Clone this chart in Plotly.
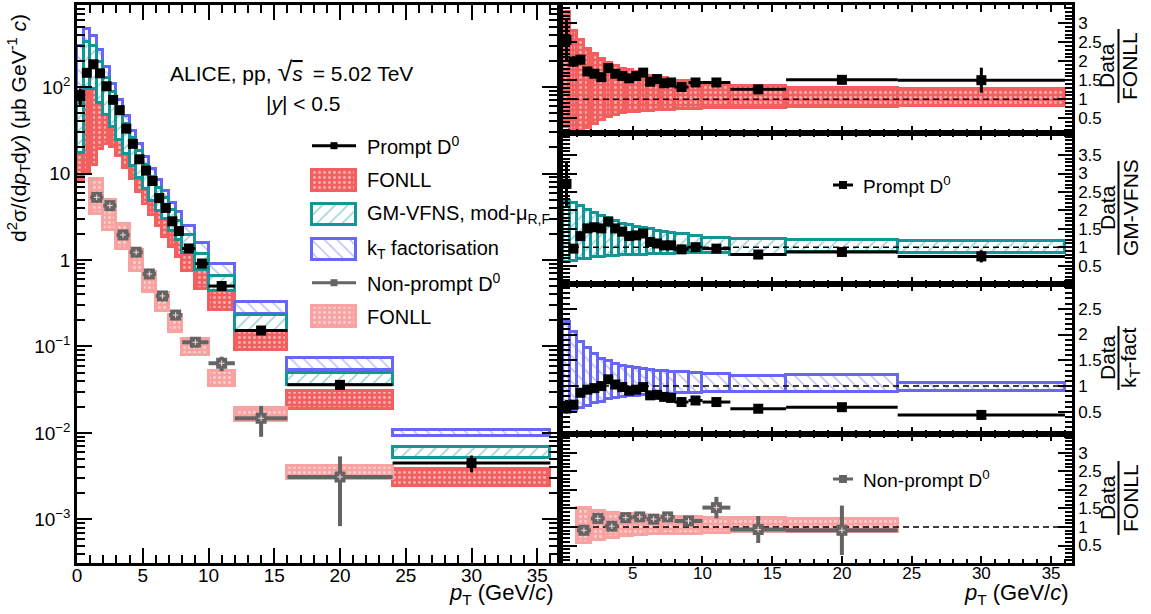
import plotly.graph_objects as go

# ---------------- data ----------------
pt_lo = [0, 0.5, 1, 1.5, 2, 2.5, 3, 3.5, 4, 4.5, 5, 5.5, 6, 6.5, 7, 7.5, 8, 9, 10, 12, 16, 24]
pt_hi = [0.5, 1, 1.5, 2, 2.5, 3, 3.5, 4, 4.5, 5, 5.5, 6, 6.5, 7, 7.5, 8, 9, 10, 12, 16, 24, 36]
prompt_xsec = [79, 146, 183, 144, 102, 71, 54, 33, 22, 14.6, 10.8, 8.2, 5.2, 4.0, 2.8, 2.16,
               1.36, 0.91, 0.50, 0.153, 0.036, 0.0045]
prompt_rel_err = [0.22, 0.07, 0.06, 0.05, 0.04, 0.04, 0.04, 0.04, 0.04, 0.04, 0.04, 0.04, 0.04,
                  0.04, 0.04, 0.04, 0.04, 0.04, 0.04, 0.06, 0.08, 0.22]

# Data / FONLL and FONLL band relative to its central value
fonll_ratio = [2.56, 1.99, 2.04, 1.73, 1.67, 1.58, 1.82, 1.67, 1.61, 1.55, 1.61, 1.70, 1.46, 1.53,
               1.42, 1.44, 1.32, 1.44, 1.44, 1.26, 1.51, 1.50]
fonll_hi = [3.29, 2.80, 2.56, 2.33, 2.18, 2.05, 1.94, 1.87, 1.80, 1.76, 1.71, 1.67, 1.62, 1.59,
            1.55, 1.51, 1.47, 1.43, 1.38, 1.35, 1.29, 1.28]
fonll_lo = [0.27, 0.14, 0.14, 0.23, 0.36, 0.45, 0.54, 0.58, 0.63, 0.65, 0.67, 0.69, 0.70, 0.71,
            0.71, 0.72, 0.73, 0.74, 0.76, 0.76, 0.80, 0.82]

# Data / GM-VFNS and band
gm_ratio = [2.72, 0.96, 1.30, 1.51, 1.54, 1.51, 1.69, 1.51, 1.42, 1.30, 1.32, 1.37, 1.14, 1.10,
            1.05, 1.05, 0.94, 1.00, 0.96, 0.80, 0.87, 0.75]
gm_hi = [2.25, 2.19, 2.12, 2.02, 1.93, 1.84, 1.78, 1.71, 1.64, 1.60, 1.55, 1.51, 1.48, 1.44,
         1.42, 1.39, 1.35, 1.30, 1.26, 1.21, 1.20, 1.16]
gm_lo = [0.60, 0.63, 0.67, 0.69, 0.72, 0.74, 0.76, 0.77, 0.78, 0.79, 0.80, 0.80, 0.81, 0.81,
         0.82, 0.82, 0.83, 0.84, 0.85, 0.78, 0.87, 0.85]

# Data / kT-factorisation and band
kt_ratio = [0.60, 0.64, 0.87, 0.93, 0.96, 1.00, 1.13, 1.03, 0.98, 0.91, 0.93, 0.98, 0.82, 0.83,
            0.79, 0.77, 0.69, 0.72, 0.69, 0.56, 0.59, 0.44]
kt_hi = [2.24, 2.04, 1.86, 1.73, 1.62, 1.53, 1.49, 1.43, 1.39, 1.37, 1.35, 1.33, 1.31, 1.30,
         1.29, 1.28, 1.27, 1.25, 1.24, 1.19, 1.22, 1.05]
kt_lo = [0.47, 0.51, 0.58, 0.62, 0.67, 0.70, 0.74, 0.77, 0.79, 0.80, 0.81, 0.82, 0.83, 0.84,
         0.84, 0.85, 0.86, 0.87, 0.89, 0.88, 0.88, 0.91]

# Non-prompt D0
np_lo = [1, 2, 3, 4, 5, 6, 7, 8, 10, 12, 16]
np_hi = [2, 3, 4, 5, 6, 7, 8, 10, 12, 16, 24]
np_xsec = [5.3, 4.25, 1.95, 1.23, 0.69, 0.384, 0.231, 0.112, 0.064, 0.0148, 0.0031]
np_rel_err = [0.08, 0.08, 0.08, 0.08, 0.08, 0.08, 0.09, 0.10, 0.19, 0.39, 0.73]
np_ratio = [0.91, 1.23, 1.02, 1.25, 1.27, 1.21, 1.27, 1.16, 1.52, 0.93, 0.91]
np_fonll_hi = [1.50, 1.42, 1.37, 1.34, 1.32, 1.30, 1.28, 1.27, 1.25, 1.23, 1.22]
np_fonll_lo = [0.58, 0.65, 0.70, 0.75, 0.78, 0.80, 0.81, 0.82, 0.84, 0.86, 0.86]

log_tick_vals = [1e-3, 1e-2, 1e-1, 1, 10, 100]
log_tick_text = ["10<sup>\u22123</sup>", "10<sup>\u22122</sup>", "10<sup>\u22121</sup>", "1", "10", "10<sup>2</sup>"]
x_tick_vals_left = [0, 5, 10, 15, 20, 25, 30, 35]
x_tick_vals_right = [5, 10, 15, 20, 25, 30, 35]

# ---------------- styling ----------------
FONT = "Liberation Sans, Arial, Helvetica, sans-serif"
RED = "#f35f5f"
PALE = "#f8a2a2"
TEAL = "#129696"
BLUE = "#6767f7"
GRAY = "#646464"
UNITY = 1.0
XMAX = 36.5

W, H = 1151, 614
ML, MR, MT, MB = 77, 79, 5, 51
PW, PH = W - ML - MR, H - MT - MB


def px_x(px):
    return (px - ML) / PW


def px_y(py):
    return (H - MB - py) / PH


def centers(lo, hi):
    return [(a + b) / 2 for a, b in zip(lo, hi)], [b - a for a, b in zip(lo, hi)]


xc, xw = centers(pt_lo, pt_hi)
xhalf = [w / 2 for w in xw]
nxc, nxw = centers(np_lo, np_hi)
nxhalf = [w / 2 for w in nxw]

PAT_FONLL = dict(shape=".", fgcolor="white", bgcolor=RED, size=5, solidity=0.28)
PAT_PALE = dict(shape=".", fgcolor="white", bgcolor=PALE, size=5, solidity=0.28)
PAT_GM = dict(shape="/", fgcolor=TEAL, bgcolor="white", size=9, solidity=0.15)
PAT_KT = dict(shape="\\", fgcolor=BLUE, bgcolor="white", size=9, solidity=0.15)

fig = go.Figure()


def add_band(x, w, base, height, fill, line, pattern, xa, ya, lw=3):
    fig.add_trace(go.Bar(x=x, y=height, base=base, width=w, xaxis=xa, yaxis=ya,
                         marker=dict(color=fill, line=dict(color=line, width=lw), pattern=pattern),
                         opacity=1, showlegend=False, hoverinfo="skip"))


def add_points(x, y, ex, ey, color, xa, ya, size=10, symbol="square", thick=3, cross=False):
    fig.add_trace(go.Scatter(x=x, y=y, mode="markers", xaxis=xa, yaxis=ya,
                             marker=dict(color=color, size=size, symbol=symbol),
                             error_x=dict(type="data", array=ex, thickness=thick, width=0, color=color),
                             error_y=dict(type="data", array=ey, thickness=thick, width=0, color=color),
                             showlegend=False, hoverinfo="skip"))
    if cross:
        fig.add_trace(go.Scatter(x=x, y=y, mode="markers", xaxis=xa, yaxis=ya,
                                 marker=dict(symbol="cross-thin", size=4, line=dict(color="#ffd6d6", width=1)),
                                 showlegend=False, hoverinfo="skip"))


def model_box(ratio, lo, hi):
    central = [d / r for d, r in zip(prompt_xsec, ratio)]
    base = [c * l for c, l in zip(central, lo)]
    height = [c * (h - l) for c, l, h in zip(central, lo, hi)]
    return base, height


# ---------- left panel ----------
b, h = model_box(fonll_ratio, fonll_lo, fonll_hi)
add_band(xc, xw, b, h, RED, RED, PAT_FONLL, "x", "y")
b, h = model_box(kt_ratio, kt_lo, kt_hi)
add_band(xc, xw, b, h, "white", BLUE, PAT_KT, "x", "y")
b, h = model_box(gm_ratio, gm_lo, gm_hi)
add_band(xc, xw, b, h, "white", TEAL, PAT_GM, "x", "y")

np_central = [d / r for d, r in zip(np_xsec, np_ratio)]
add_band(nxc, nxw, [c * l for c, l in zip(np_central, np_fonll_lo)],
         [c * (hh - l) for c, l, hh in zip(np_central, np_fonll_lo, np_fonll_hi)],
         PALE, PALE, PAT_PALE, "x", "y")

add_points(nxc, np_xsec, nxhalf, [d * e for d, e in zip(np_xsec, np_rel_err)], GRAY, "x", "y",
           size=11, thick=4, cross=True)
add_points(xc, prompt_xsec, xhalf, [d * e for d, e in zip(prompt_xsec, prompt_rel_err)], "black", "x", "y")

# ---------- ratio panels ----------
panels = [
    ("x2", "y2", fonll_ratio, fonll_lo, fonll_hi, RED, RED, PAT_FONLL),
    ("x3", "y3", gm_ratio, gm_lo, gm_hi, "white", TEAL, PAT_GM),
    ("x4", "y4", kt_ratio, kt_lo, kt_hi, "white", BLUE, PAT_KT),
]
for xa, ya, ratio, lo, hi, fill, line, pat in panels:
    add_band(xc, xw, lo, [a - bb for a, bb in zip(hi, lo)], fill, line, pat, xa, ya)
    fig.add_trace(go.Scatter(x=[0, XMAX], y=[UNITY, UNITY], mode="lines", xaxis=xa, yaxis=ya,
                             line=dict(color="black", width=1.5, dash="6px,4px"),
                             showlegend=False, hoverinfo="skip"))
    add_points(xc, ratio, xhalf, [r * e for r, e in zip(ratio, prompt_rel_err)], "black", xa, ya)

add_band(nxc, nxw, np_fonll_lo, [a - bb for a, bb in zip(np_fonll_hi, np_fonll_lo)],
         PALE, PALE, PAT_PALE, "x5", "y5")
fig.add_trace(go.Scatter(x=[0, XMAX], y=[UNITY, UNITY], mode="lines", xaxis="x5", yaxis="y5",
                         line=dict(color="black", width=1.5, dash="6px,4px"),
                         showlegend=False, hoverinfo="skip"))
add_points(nxc, np_ratio, nxhalf, [r * e for r, e in zip(np_ratio, np_rel_err)], GRAY, "x5", "y5",
           size=11, thick=4, cross=True)

# ---------- legend drawn on an auxiliary pixel-coordinate axis ----------
leg_rows = [145.7, 180, 214.3, 249.3, 282.7, 316.7]
leg_labels = ["Prompt D<sup>0</sup>", "FONLL", "GM-VFNS, mod-\u03bc<sub>R,F</sub>",
              "k<sub>T</sub> factorisation", "Non-prompt D<sup>0</sup>", "FONLL"]
SW_X0, SW_X1, SW_H = 312, 356, 21
sw_c = (SW_X0 + SW_X1) / 2
box_styles = {1: (RED, RED, PAT_FONLL), 2: ("white", TEAL, PAT_GM), 3: ("white", BLUE, PAT_KT),
              5: (PALE, PALE, PAT_PALE)}
for i, row in enumerate(leg_rows):
    if i in box_styles:
        fill, line, pat = box_styles[i]
        add_band([sw_c], [SW_X1 - SW_X0], [row - SW_H / 2], [SW_H], fill, line, pat, "x6", "y6")
    else:
        col = "black" if i == 0 else GRAY
        fig.add_trace(go.Scatter(x=[SW_X0, SW_X1], y=[row, row], mode="lines", xaxis="x6", yaxis="y6",
                                 line=dict(color=col, width=3), showlegend=False, hoverinfo="skip"))
        fig.add_trace(go.Scatter(x=[sw_c], y=[row], mode="markers", xaxis="x6", yaxis="y6",
                                 marker=dict(color=col, size=7, symbol="square"),
                                 showlegend=False, hoverinfo="skip"))

# small legends inside ratio panels
for py, col in [(185, "black"), (479, GRAY)]:
    fig.add_trace(go.Scatter(x=[833, 853], y=[py, py], mode="lines", xaxis="x6", yaxis="y6",
                             line=dict(color=col, width=3), showlegend=False, hoverinfo="skip"))
    fig.add_trace(go.Scatter(x=[843], y=[py], mode="markers", xaxis="x6", yaxis="y6",
                             marker=dict(color=col, size=8, symbol="square"),
                             showlegend=False, hoverinfo="skip"))

BLACKFONT = lambda s: dict(size=s, family=FONT, color="black")
annotations = []
for row, lab in zip(leg_rows, leg_labels):
    annotations.append(dict(x=px_x(365), y=px_y(row), xref="paper", yref="paper", text=lab,
                            showarrow=False, xanchor="left", yanchor="middle", font=BLACKFONT(20)))
for py, lab in [(185, "Prompt D<sup>0</sup>"), (479, "Non-prompt D<sup>0</sup>")]:
    annotations.append(dict(x=px_x(861), y=px_y(py), xref="paper", yref="paper", text=lab,
                            showarrow=False, xanchor="left", yanchor="middle", font=BLACKFONT(19)))

# header text
annotations.append(dict(x=px_x(168), y=px_y(72), xref="paper", yref="paper", showarrow=False,
                        xanchor="left", yanchor="middle",
                        text="ALICE, pp, <span style='font-size:27px'>\u221a</span>"
                             "<span style='text-decoration:overline'><i>s</i></span>\u2009 = 5.02 TeV",
                        font=BLACKFONT(21)))
annotations.append(dict(x=px_x(303), y=px_y(103), xref="paper", yref="paper", showarrow=False,
                        xanchor="center", yanchor="middle",
                        text="|<i>y</i>| &lt; 0.5", font=BLACKFONT(21)))

# axis titles
annotations.append(dict(x=px_x(18), y=px_y(128), xref="paper", yref="paper", showarrow=False,
                        textangle=-90, xanchor="center", yanchor="middle",
                        text="d<sup>2</sup>\u03c3/(d<i>p</i><sub>T</sub>d<i>y</i>) (\u03bcb GeV<sup>-1</sup> <i>c</i>)",
                        font=BLACKFONT(21)))
for xr in (556, 1071):
    annotations.append(dict(x=px_x(xr), y=px_y(594), xref="paper", yref="paper", showarrow=False,
                            xanchor="right", yanchor="middle",
                            text="<i>p</i><sub>T</sub> (GeV/<i>c</i>)", font=BLACKFONT(22)))

# fraction titles of ratio panels
fracs = [(66, "FONLL", 74), (208, "GM-VFNS", 94), (358, "k<sub>T</sub>-fact", 64), (498, "FONLL", 74)]
shapes = []
for cy, den, ln in fracs:
    annotations.append(dict(x=px_x(1107), y=px_y(cy), xref="paper", yref="paper", showarrow=False,
                            xanchor="center", yanchor="middle",
                            textangle=-90, text="Data", font=BLACKFONT(21)))
    annotations.append(dict(x=px_x(1130), y=px_y(cy), xref="paper", yref="paper", showarrow=False,
                            xanchor="center", yanchor="middle",
                            textangle=-90, text=den, font=BLACKFONT(21)))
    shapes.append(dict(type="line", xref="paper", yref="paper", x0=px_x(1118.5), x1=px_x(1118.5),
                       y0=px_y(cy - ln / 2), y1=px_y(cy + ln / 2), line=dict(color="black", width=2)))

# ---------------- axes ----------------
common = dict(ticks="inside", showline=True, linecolor="black", linewidth=2.5, mirror="allticks",
              tickcolor="black", tickwidth=2, showgrid=False, zeroline=False, automargin=False)

minor_log = [m * 10 ** k for k in range(-4, 3) for m in range(2, 10)]

x_left_dom = [0, px_x(557)]
x_right_dom = [px_x(563), 1]

layout_axes = dict(
    xaxis=dict(domain=x_left_dom, range=[0, XMAX], tickvals=x_tick_vals_left, ticklen=15,
               ticklabelstandoff=-7,
               minor=dict(ticks="inside", ticklen=8, tickwidth=1.5, tickcolor="black", dtick=1, tick0=0),
               tickfont=BLACKFONT(19), anchor="y", **common),
    yaxis=dict(domain=[0, 1], type="log", range=[-3.503, 2.948], tickvals=log_tick_vals,
               ticktext=log_tick_text, ticklen=15,
               minor=dict(ticks="inside", ticklen=8, tickwidth=1.5, tickcolor="black", tickvals=minor_log),
               tickfont=BLACKFONT(19), anchor="x", **common),
)

ratio_doms = [[px_y(133), 1], [px_y(284), px_y(133)], [px_y(434), px_y(284)], [0, px_y(434)]]
ratio_ranges = [[0.11, 3.48], [0.0, 4.1], [0.07, 2.98], [0.03, 3.5]]
ratio_ticks = [[0.5, 1, 1.5, 2, 2.5, 3], [0.5, 1, 1.5, 2, 2.5, 3, 3.5],
               [0.5, 1, 1.5, 2, 2.5], [0.5, 1, 1.5, 2, 2.5, 3]]
for i in range(4):
    n = i + 2
    layout_axes[f"xaxis{n}"] = dict(domain=x_right_dom, range=[0, XMAX], tickvals=x_tick_vals_right,
                                    ticklen=7, showticklabels=(i == 3), ticklabelstandoff=-7,
                                    minor=dict(ticks="inside", ticklen=4, tickwidth=1.5, tickcolor="black",
                                               dtick=1, tick0=0),
                                    tickfont=BLACKFONT(17), anchor=f"y{n}", **common)
    layout_axes[f"yaxis{n}"] = dict(domain=ratio_doms[i], range=ratio_ranges[i], tickvals=ratio_ticks[i],
                                    ticklen=14, side="right",
                                    minor=dict(ticks="inside", ticklen=7, tickwidth=1.5, tickcolor="black",
                                               dtick=0.1, tick0=0),
                                    tickfont=BLACKFONT(17), anchor=f"x{n}", **common)

layout_axes["xaxis6"] = dict(domain=[0, 1], range=[ML, W - MR], visible=False, fixedrange=True, anchor="y6")
layout_axes["yaxis6"] = dict(domain=[0, 1], range=[H - MB, MT], visible=False, fixedrange=True, anchor="x6")

fig.update_layout(
    width=W, height=H, margin=dict(l=ML, r=MR, t=MT, b=MB),
    paper_bgcolor="white", plot_bgcolor="rgba(0,0,0,0)", barmode="overlay", bargap=0,
    font=dict(family=FONT, color="black"), showlegend=False,
    annotations=annotations, shapes=shapes, **layout_axes,
)

fig.write_html("out.html", config={"displayModeBar": False},
               post_script="document.body.style.margin='0px';document.body.style.overflow='hidden';")
